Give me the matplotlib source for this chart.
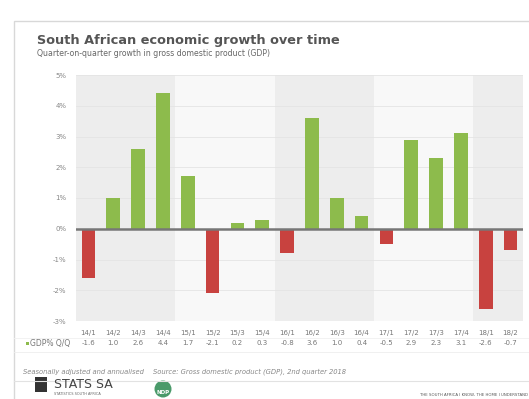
import numpy as np
import matplotlib
matplotlib.use("Agg")
import matplotlib.pyplot as plt
from matplotlib.patches import Rectangle, Ellipse

quarters = ['14/1', '14/2', '14/3', '14/4', '15/1', '15/2', '15/3', '15/4',
            '16/1', '16/2', '16/3', '16/4', '17/1', '17/2', '17/3', '17/4',
            '18/1', '18/2']
growth = [-1.6, 1.0, 2.6, 4.4, 1.7, -2.1, 0.2, 0.3,
          -0.8, 3.6, 1.0, 0.4, -0.5, 2.9, 2.3, 3.1, -2.6, -0.7]
growth_labels = ['-1.6', '1.0', '2.6', '4.4', '1.7', '-2.1', '0.2', '0.3',
                 '-0.8', '3.6', '1.0', '0.4', '-0.5', '2.9', '2.3', '3.1', '-2.6', '-0.7']
years = [2014, 2015, 2016, 2017, 2018]
y_ticks = [-3, -2, -1, 0, 1, 2, 3, 4, 5]

green = '#8dbb4c'
red = '#c8423f'

W, H = 529, 399
fig = plt.figure(figsize=(W / 100, H / 100), dpi=100)
fig.patch.set_facecolor('white')

def px(x, y):
    # pixel coords (from top-left) -> figure fraction
    return x / W, 1 - y / H

# card outline (runs off the bottom and right edges)
card = Rectangle(px(14, 420), (W + 10 - 14) / W, (420 - 21) / H, transform=fig.transFigure,
                 facecolor='white', edgecolor='#d8d8d8', lw=1.0, zorder=-1)
fig.patches.append(card)
fig.lines.append(plt.Line2D([14 / W, 1], [1 - 381 / H] * 2, transform=fig.transFigure,
                            color='#e2e2e2', lw=0.8))

fig.text(*px(37, 44), 'South African economic growth over time', fontsize=9.3,
         fontweight='bold', color='#555555', va='baseline')
fig.text(*px(37, 56), 'Quarter-on-quarter growth in gross domestic product (GDP)',
         fontsize=5.6, color='#666666', va='baseline')

ax_l, ax_r, ax_t, ax_b = 76, 523, 75, 321
ax = fig.add_axes([ax_l / W, 1 - ax_b / H, (ax_r - ax_l) / W, (ax_b - ax_t) / H])
ax.set_facecolor('#f8f8f8')
x = np.arange(len(quarters))
ax.set_xlim(-0.5, len(quarters) - 0.5)
ax.set_ylim(-3, 5)

# alternating year shading
for i, yr in enumerate(years):
    if i % 2 == 0:
        ax.axvspan(i * 4 - 0.5, min(i * 4 + 3.5, len(quarters) - 0.5),
                   color='#ededed', zorder=0, lw=0)

for t in y_ticks:
    ax.axhline(t, color='#e4e4e4', lw=0.6, zorder=1)

colors = [green if v >= 0 else red for v in growth]
ax.bar(x, growth, width=0.55, color=colors, zorder=2)
ax.axhline(0, color='#777777', lw=1.8, zorder=3)

ax.set_yticks(y_ticks)
ax.set_yticklabels([f'{t}%' for t in y_ticks], fontsize=5, color='#888888')
ax.tick_params(axis='y', length=0, pad=7)
ax.set_xticks([])
for s in ax.spines.values():
    s.set_visible(False)

# table rows under the chart
for i in x:
    ax.text(i, -3.38, quarters[i], ha='center', va='center', fontsize=5,
            color='#777777', clip_on=False)
    ax.text(i, -3.72, growth_labels[i], ha='center', va='center', fontsize=5,
            color='#777777', clip_on=False)
fig.patches.append(Rectangle(px(26, 345), 3 / W, 3 / H, transform=fig.transFigure,
                             facecolor=green, edgecolor='none'))
fig.text(*px(30, 343.5), 'GDP% Q/Q', fontsize=5.5, color='#777777', va='center')
fig.lines.append(plt.Line2D([14 / W, 1], [1 - 337.5 / H] * 2, transform=fig.transFigure,
                            color='#f0f0f0', lw=0.6))
fig.lines.append(plt.Line2D([14 / W, 1], [1 - 352 / H] * 2, transform=fig.transFigure,
                            color='#eeeeee', lw=0.6))

fig.text(*px(23, 372), 'Seasonally adjusted and annualised', fontsize=4.9, style='italic',
         color='#888888', va='center')
fig.text(*px(153, 372), 'Source: Gross domestic product (GDP), 2nd quarter 2018',
         fontsize=4.9, style='italic', color='#888888', va='center')

# footer
fig.patches.append(Rectangle(px(35, 392), 12 / W, 15 / H, transform=fig.transFigure,
                             facecolor='#333333', edgecolor='none'))
fig.text(*px(54, 385), 'STATS SA', fontsize=9, color='#444444', va='center')
fig.text(*px(54, 394), 'STATISTICS SOUTH AFRICA', fontsize=2.5, color='#666666', va='center')
fig.patches.append(Ellipse(px(163, 389), 17 / W, 17 / H, transform=fig.transFigure,
                           facecolor='#4a9a6a', edgecolor='none'))
fig.text(*px(163, 393), 'NDP', fontsize=4, color='white', ha='center', va='center',
         fontweight='bold')
fig.text(*px(528, 395), 'THE SOUTH AFRICA I KNOW, THE HOME I UNDERSTAND', fontsize=2.8,
         color='#555555', ha='right', va='center')

fig.savefig('out.png', dpi=100, facecolor='white')
